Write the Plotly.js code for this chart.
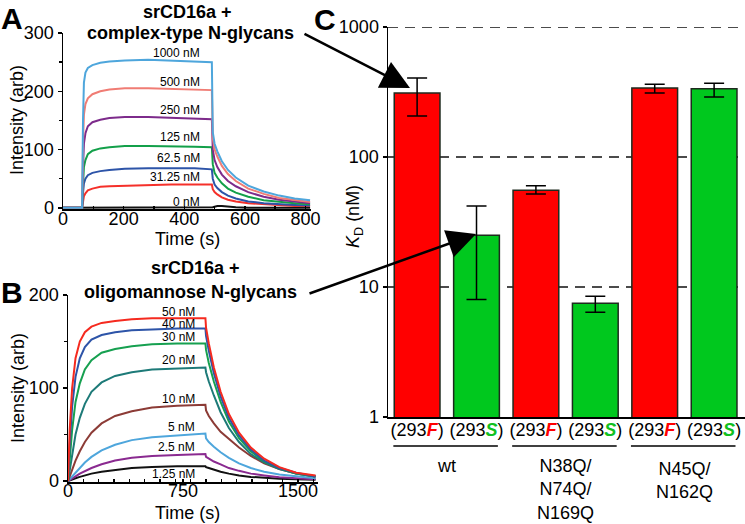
<!DOCTYPE html>
<html>
<head>
<meta charset="utf-8">
<script src="https://cdn.plot.ly/plotly-3.0.1.min.js"></script>
<style>
  html, body { margin: 0; padding: 0; background: #fff; }
  #plot-container { width: 745px; height: 524px; }
</style>
</head>
<body>
<div id="plot-container"></div>
<script>
// Panel A: complex-type N-glycans
const timeA = [0, 63, 66, 69, 74, 82, 97, 123, 153, 204, 281, 357, 434, 491, 494, 500, 509, 524, 544, 570, 611, 662, 713, 764, 815];
const concA = ["0 nM", "31.25 nM", "62.5 nM", "125 nM", "250 nM", "500 nM", "1000 nM"];
const colorsA = ["#111111", "#f5302a", "#2d54a8", "#13a04a", "#7d2b8b", "#f07c74", "#4ea6dc"];
const curvesA = [
  [0, 0, 0, 0, 0, 0, 0, 0, 0, 0, 0, 0, 0, 0, 1, 2, 3, 3, 2, 1, 0, 0, 0, 0, 0],
  [0, 0, 10, 20, 25, 30, 33, 36, 37, 38, 39, 40, 40, 40, 32, 27, 23, 18, 14, 11, 8, 6, 4, 3, 3],
  [0, 0, 25, 42, 50, 56, 60, 63, 65, 67, 68, 68, 68, 66, 50, 40, 34, 27, 21, 16, 11, 8, 6, 5, 4],
  [0, 0, 40, 70, 82, 92, 98, 102, 104, 106, 106, 106, 105, 104, 75, 60, 52, 42, 33, 26, 19, 13, 10, 8, 6],
  [0, 0, 70, 110, 128, 140, 147, 151, 154, 156, 156, 155, 154, 152, 100, 82, 70, 57, 46, 37, 27, 19, 14, 11, 8],
  [0, 0, 110, 160, 178, 188, 195, 200, 203, 205, 205, 204, 203, 202, 120, 100, 88, 72, 58, 46, 33, 24, 17, 13, 10],
  [0, 0, 150, 215, 232, 240, 245, 249, 251, 253, 254, 253, 252, 250, 130, 110, 97, 80, 65, 52, 38, 28, 21, 16, 13],
];
const labelYA = [202, 177, 158, 137, 110, 82, 53];

// Panel B: oligomannose N-glycans
const timeB = [0, 11, 27, 49, 77, 110, 153, 219, 307, 416, 548, 712, 896, 900, 918, 951, 995, 1049, 1115, 1192, 1279, 1378, 1487, 1614];
const concB = ["1.25 nM", "2.5 nM", "5 nM", "10 nM", "20 nM", "30 nM", "40 nM", "50 nM"];
const colorsB = ["#111111", "#8a2a90", "#4ea6dc", "#8c3b36", "#1d7a78", "#16a050", "#2d54a8", "#f52a1f"];
const curvesB = [
  [0, 0.5, 1.5, 3, 4.5, 6, 8, 10, 12, 14, 15, 16, 16, 15, 14, 12, 10, 8, 6, 4.5, 3.5, 2.5, 2, 1.5],
  [0, 1, 3, 5, 8, 11, 14, 18, 22, 25, 27, 28, 29, 26, 24, 21, 18, 14, 11, 8, 6, 4, 3, 2],
  [0, 2, 5, 10, 15, 20, 26, 33, 39, 44, 47, 49, 51, 46, 42, 37, 31, 25, 19, 14, 10, 7, 5, 3],
  [0, 5, 12, 22, 32, 42, 52, 62, 70, 75, 79, 81, 82, 76, 70, 62, 53, 45, 36, 27, 19, 13, 8, 5],
  [0, 12, 30, 50, 68, 83, 96, 106, 113, 117, 120, 121, 122, 117, 107, 92, 74, 57, 42, 29, 20, 13, 8, 5],
  [0, 25, 55, 85, 105, 120, 130, 138, 142, 145, 147, 148, 148, 141, 127, 107, 85, 64, 46, 32, 21, 14, 8, 5],
  [0, 40, 80, 112, 132, 144, 152, 157, 160, 162, 163, 164, 164, 156, 140, 116, 91, 68, 49, 34, 22, 14, 9, 5],
  [0, 55, 100, 132, 150, 160, 166, 170, 172, 174, 175, 175, 175, 165, 148, 122, 96, 72, 52, 36, 24, 15, 9, 6],
];
const labelYB = [474, 447, 427, 399, 360, 337, 324, 312];

// Panel C: KD values
const cellLabels = ["(293F)", "(293S)", "(293F)", "(293S)", "(293F)", "(293S)"];
const groupLabels = ["wt", "N38Q/<br>N74Q/<br>N169Q", "N45Q/<br>N162Q"];
const kd = [310, 25, 55.6, 7.5, 340, 335];
const kdUpper = [405, 42, 60, 8.5, 363, 370];
const kdLower = [207, 8, 52, 6.4, 310, 290];
const gridValues = [10, 100, 1000];

const W = 745, H = 524;
const px = (x) => x / W;
const py = (y) => 1 - y / H;
const FONT = "Liberation Sans, Arial, sans-serif";

function cellText(label) {
  const letter = label.charAt(4);
  const color = letter === "F" ? "#ff0000" : "#10c020";
  return `(293<b><i><span style="color:${color}">${letter}</span></i></b>)`;
}

const traces = [];
curvesA.forEach((vals, i) => {
  traces.push({
    x: timeA, y: vals, xaxis: "x", yaxis: "y", mode: "lines",
    line: { color: colorsA[i], width: 2 }, hoverinfo: "skip",
  });
});
curvesB.forEach((vals, i) => {
  traces.push({
    x: timeB, y: vals, xaxis: "x2", yaxis: "y2", mode: "lines",
    line: { color: colorsB[i], width: 2 }, hoverinfo: "skip",
  });
});
traces.push({
  type: "bar",
  x: kd.map((_, i) => i),
  y: kd,
  xaxis: "x3", yaxis: "y3",
  width: 0.77,
  marker: {
    color: cellLabels.map((l) => (l.includes("F") ? "#ff0000" : "#00c81e")),
    line: { color: "#1e2a1e", width: 1.5 },
  },
  error_y: {
    type: "data", symmetric: false,
    array: kdUpper.map((u, i) => u - kd[i]),
    arrayminus: kdLower.map((l, i) => kd[i] - l),
    color: "#000", thickness: 1.5, width: 10,
  },
});

const annotations = [];
function addText(text, x, y, size, opts = {}) {
  annotations.push(Object.assign({
    text, x: px(x), y: py(y), xref: "paper", yref: "paper",
    showarrow: false, font: { family: FONT, size, color: "#000" },
    xanchor: "center", yanchor: "middle",
  }, opts));
}

concA.forEach((c, i) => addText(c, 202, labelYA[i], 12, { xanchor: "right" }));
concB.forEach((c, i) => addText(c, 197, labelYB[i], 12, { xanchor: "right" }));

addText("<b>A</b>", 12, 18, 30);
addText("<b>B</b>", 12, 292, 30);
addText("<b>C</b>", 325, 20, 30);
addText("<b>srCD16a +</b>", 187, 12, 18);
addText("<b>complex-type N-glycans</b>", 190, 33, 18);
addText("<b>srCD16a +</b>", 195, 268, 18);
addText("<b>oligomannose N-glycans</b>", 190, 292, 18);
addText("Intensity (arb)", 17, 120, 18, { textangle: -90 });
addText("Time (s)", 187, 239, 18);
addText("Intensity (arb)", 18, 388, 18, { textangle: -90 });
addText("Time (s)", 187, 513, 18);
addText("<i>K</i><sub>D</sub> (nM)", 354, 217, 18, { textangle: -90 });

groupLabels.forEach((g, i) => {
  annotations.push({
    text: g, x: i * 2 + 0.5, xref: "x3", y: py(i === 2 ? 457 : 454), yref: "paper",
    showarrow: false, yanchor: "top", xanchor: "center",
    font: { family: FONT, size: 18, color: "#000" },
  });
});

// arrows from panel titles to bars
annotations.push({
  text: "", x: px(410), y: py(88), xref: "paper", yref: "paper",
  ax: -107, ay: -55, showarrow: true, arrowhead: 2, arrowsize: 2.3,
  arrowwidth: 2.5, arrowcolor: "#000",
});
annotations.push({
  text: "", x: px(476), y: py(234), xref: "paper", yref: "paper",
  ax: -168, ay: 60, showarrow: true, arrowhead: 2, arrowsize: 2.3,
  arrowwidth: 2.5, arrowcolor: "#000",
});

const shapes = groupLabels.map((_, i) => ({
  type: "line", xref: "x3", yref: "paper",
  x0: i * 2 - 0.4, x1: i * 2 + 1.36, y0: py(446), y1: py(446),
  line: { color: "#000", width: 1.5 },
}));
gridValues.forEach((v) => {
  shapes.push({
    type: "line", xref: "x3 domain", yref: "y3", layer: "below",
    x0: 0, x1: 1, y0: v, y1: v,
    line: { color: "#111", width: 1.5, dash: "10px,7px" },
  });
});

const baseAxis = {
  showline: true, linecolor: "#000", linewidth: 1.5,
  ticks: "outside", ticklen: 4, tickcolor: "#000", tickwidth: 1.5,
  showgrid: false, zeroline: false,
  tickfont: { family: FONT, size: 18, color: "#000" },
  fixedrange: true,
};

const layout = {
  width: W, height: H,
  margin: { l: 0, r: 0, t: 0, b: 0 },
  paper_bgcolor: "#fff", plot_bgcolor: "rgba(0,0,0,0)",
  showlegend: false,
  font: { family: FONT, color: "#000" },
  xaxis: Object.assign({}, baseAxis, {
    domain: [px(63), px(311)], range: [0, 818], anchor: "y",
    ticks: "inside", ticklen: 3, ticklabelstandoff: -7,
    tickvals: [0, 200, 400, 600, 800],
    minor: { dtick: 100, ticks: "inside", ticklen: 3, tickcolor: "#000" },
  }),
  yaxis: Object.assign({}, baseAxis, {
    domain: [py(209), py(33)], range: [-2, 300], anchor: "x",
    tickvals: [0, 100, 200, 300],
    minor: { dtick: 50, ticks: "outside", ticklen: 3, tickcolor: "#000" },
  }),
  xaxis2: Object.assign({}, baseAxis, {
    domain: [px(68), px(318)], range: [0, 1630], anchor: "y2",
    ticks: "inside", ticklen: 3, ticklabelstandoff: -8,
    tickvals: [0, 750, 1500],
    minor: { tick0: 0, dtick: 100, ticks: "inside", ticklen: 3, tickcolor: "#000" },
  }),
  yaxis2: Object.assign({}, baseAxis, {
    domain: [py(482), py(295)], range: [-1, 200], anchor: "x2",
    tickvals: [0, 100, 200],
    minor: { dtick: 50, ticks: "outside", ticklen: 3, tickcolor: "#000" },
  }),
  xaxis3: Object.assign({}, baseAxis, {
    domain: [px(388), px(745)], range: [-0.49, 5.52], anchor: "y3",
    ticks: "", ticklabelstandoff: -4, tickvals: [0, 1, 2, 3, 4, 5],
    ticktext: cellLabels.map(cellText),
  }),
  yaxis3: Object.assign({}, baseAxis, {
    type: "log", domain: [py(417), py(27)], range: [0, 3], anchor: "x3",
    tickvals: [1, 10, 100, 1000], ticktext: ["1", "10", "100", "1000"],
  }),
  annotations,
  shapes,
};

Plotly.newPlot("plot-container", traces, layout, { displayModeBar: false, staticPlot: true });
</script>
</body>
</html>
